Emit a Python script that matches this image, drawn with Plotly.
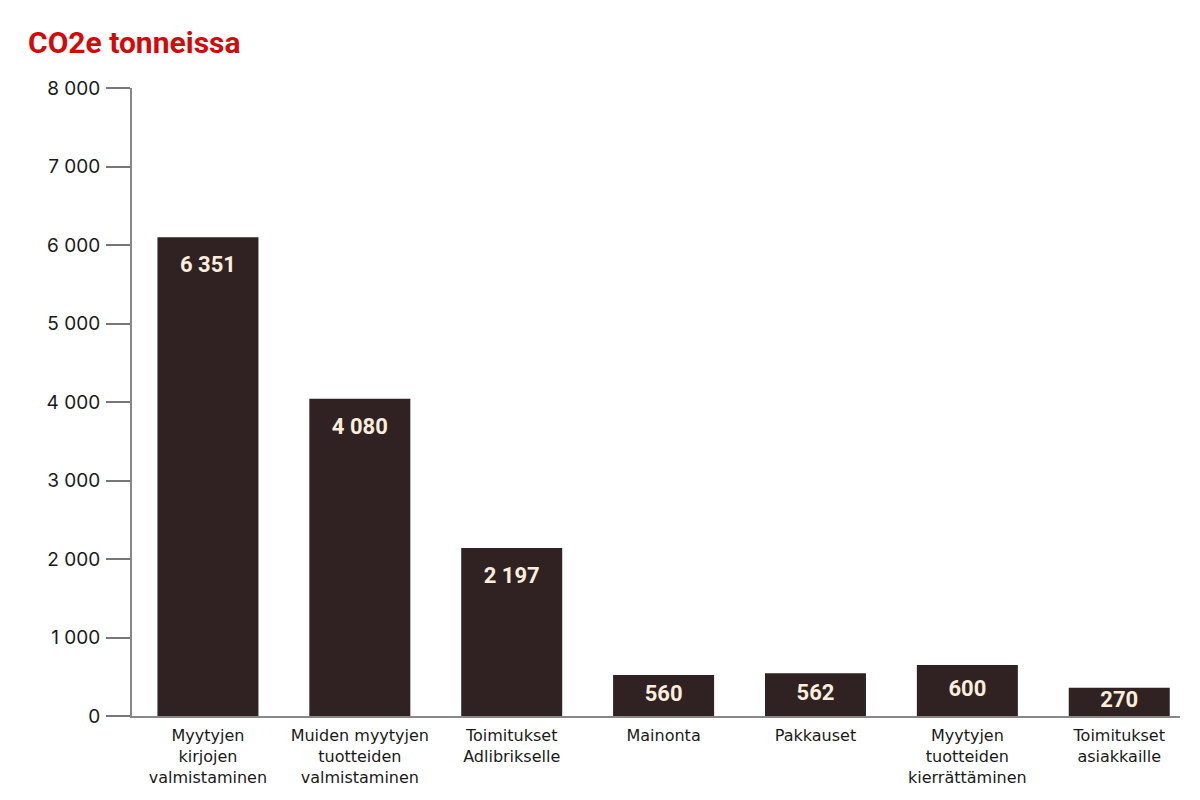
import plotly.graph_objects as go

categories = [
    "Myytyjen<br>kirjojen<br>valmistaminen",
    "Muiden myytyjen<br>tuotteiden<br>valmistaminen",
    "Toimitukset<br>Adlibrikselle",
    "Mainonta",
    "Pakkauset",
    "Myytyjen<br>tuotteiden<br>kierrättäminen",
    "Toimitukset<br>asiakkaille",
]
# bar heights as drawn in the picture
bar_heights = [6100, 4040, 2140, 522, 545, 650, 360]
# printed value labels
value_labels = ["6 351", "4 080", "2 197", "560", "562", "600", "270"]

y_tickvals = [0, 1000, 2000, 3000, 4000, 5000, 6000, 7000, 8000]
y_ticktext = ["0", "1 000", "2 000", "3 000", "4 000", "5 000", "6 000", "7 000", "8 000"]

BAR = "#302223"
LABEL = "#fbeedc"

x_idx = list(range(len(categories)))
label_y = [max(v - 380, v / 2) for v in bar_heights]

fig = go.Figure()
fig.add_trace(go.Bar(
    x=x_idx, y=bar_heights, width=0.665,
    marker=dict(color=BAR, line=dict(width=0)),
    hoverinfo="skip",
))
fig.add_trace(go.Scatter(
    x=x_idx, y=label_y, mode="text", text=value_labels,
    textposition="middle center",
    textfont=dict(family="Roboto", size=22, color=LABEL, weight="bold"),
    hoverinfo="skip",
))

fig.update_layout(
    width=1200, height=800,
    margin=dict(l=132, r=20, t=88, b=84),
    paper_bgcolor="white", plot_bgcolor="white",
    showlegend=False,
    font=dict(family="Inter", color="#1a1a1a"),
    title=dict(
        text="<b>CO2e tonneissa</b>",
        x=0, xref="container", xanchor="left",
        y=1, yref="container", yanchor="top",
        pad=dict(l=28, t=32),
        font=dict(family="Roboto", size=30, color="#d10a0a"),
    ),
    xaxis=dict(
        tickmode="array", tickvals=x_idx, ticktext=categories,
        range=[-0.5, 6.4],
        showgrid=False, zeroline=False,
        showline=True, linecolor="#888888", linewidth=2,
        ticks="", tickfont=dict(family="DejaVu Sans", size=16, color="#1a1a1a"),
        ticklabelstandoff=4,
    ),
    yaxis=dict(
        tickmode="array", tickvals=y_tickvals, ticktext=y_ticktext,
        range=[0, 8000],
        showgrid=False, zeroline=False,
        showline=True, linecolor="#888888", linewidth=2,
        ticks="outside", ticklen=24, tickwidth=1.5, tickcolor="#777777",
        tickfont=dict(family="Inter", size=19, color="#1a1a1a"),
        ticklabelstandoff=2,
    ),
)

fig.write_html("out.html")
